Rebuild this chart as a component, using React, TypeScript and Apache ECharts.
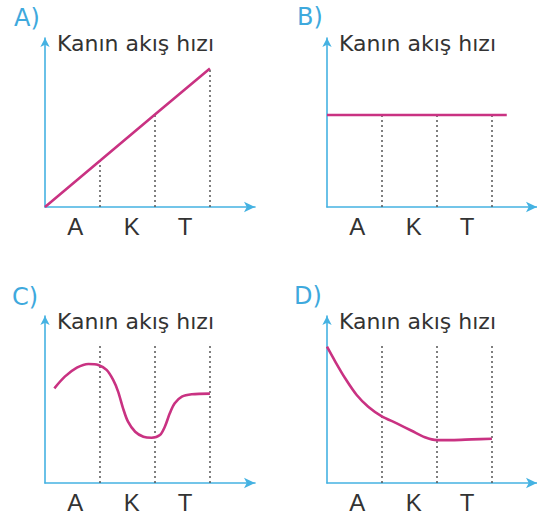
import React, { useEffect, useRef } from "react";
import * as echarts from "echarts";

const panelLetters = ["A)", "B)", "C)", "D)"];
const yAxisName = "Kanın akış hızı";
const categories = ["A", "K", "T"];
const labelPositions = [0.55, 1.58, 2.55];
const markerX = [1, 2, 3];

const seriesA: [number, number][] = [[0, 0], [1, 2.73], [2, 5.47], [3, 8.2]];
const seriesB: [number, number][] = [[0, 5.44], [1, 5.44], [2, 5.44], [3, 5.44], [3.27, 5.44]];
const seriesC: [number, number][] = [
  [0.17, 5.67], [0.36, 6.37], [0.58, 6.91], [0.79, 7.13], [0.97, 7.07],
  [1.12, 6.77], [1.24, 6.17], [1.33, 5.47], [1.42, 4.47], [1.51, 3.67],
  [1.64, 3.07], [1.79, 2.77], [1.94, 2.71], [2.09, 2.87], [2.18, 3.37],
  [2.27, 4.17], [2.36, 4.77], [2.49, 5.17], [2.67, 5.31], [3.0, 5.35],
];
const seriesD: [number, number][] = [
  [0, 8.16], [0.15, 7.27], [0.33, 6.27], [0.54, 5.27], [0.75, 4.57],
  [0.99, 4.01], [1.27, 3.57], [1.54, 3.13], [1.78, 2.74], [2.0, 2.57],
  [2.27, 2.57], [2.63, 2.61], [3.0, 2.65],
];
const dropTopsA = [2.73, 5.47, 8.2];
const dropTopsB = [5.44, 5.44, 5.44];
const dropTopsCD = [8.26, 8.26, 8.26];

const AXIS_BLUE = "#45b2e2";
const CURVE = "#c93282";
const FONT = "DejaVu Sans";
const LABEL_FONT = "Liberation Sans";

export default function App() {
  const ref = useRef<HTMLDivElement>(null);
  useEffect(() => {
    if (!ref.current) return;
    const chart = echarts.init(ref.current, null, { renderer: "svg" });
    const grids = [
      { left: 45, top: 38, width: 210, height: 169 },
      { left: 327, top: 38, width: 210, height: 169 },
      { left: 45, top: 316, width: 210, height: 167 },
      { left: 327, top: 316, width: 210, height: 167 },
    ];
    const letterPos = [
      [14, 18],
      [297, 17],
      [12, 297],
      [294, 296],
    ];
    const datas = [seriesA, seriesB, seriesC, seriesD];
    const drops = [dropTopsA, dropTopsB, dropTopsCD, dropTopsCD];
    const smooths = [false, false, 0.3, 0.3];

    const labelFor = (v: number) => {
      const k = labelPositions.findIndex((p) => Math.abs(p - v) < 1e-6);
      return k >= 0 ? categories[k] : "";
    };

    const option: any = {
      animation: false,
      backgroundColor: "#ffffff",
      textStyle: { fontFamily: FONT },
      grid: grids,
      xAxis: grids.map((_, i) => ({
        type: "value",
        gridIndex: i,
        min: 0,
        max: 3.82,
        splitLine: { show: false },
        axisTick: { show: false, customValues: labelPositions },
        axisLine: {
          show: true,
          onZero: false,
          symbol: ["none", "arrow"],
          symbolSize: [8, 11],
          lineStyle: { color: AXIS_BLUE, width: 1.6 },
        },
        axisLabel: {
          show: true,
          customValues: labelPositions,
          showMinLabel: true,
          showMaxLabel: true,
          formatter: (v: number) => labelFor(v),
          fontSize: 24,
          fontFamily: LABEL_FONT,
          color: "#333333",
          margin: 7,
        },
      })),
      yAxis: grids.map((_, i) => ({
        type: "value",
        gridIndex: i,
        min: 0,
        max: 10,
        splitLine: { show: false },
        axisTick: { show: false },
        axisLabel: { show: false },
        axisLine: {
          show: true,
          onZero: false,
          symbol: ["none", "arrow"],
          symbolSize: [7, 9],
          lineStyle: { color: AXIS_BLUE, width: 1.6 },
        },
        name: yAxisName,
        nameLocation: "end",
        nameGap: -5,
        nameTextStyle: {
          align: "left",
          verticalAlign: "middle",
          fontSize: 22,
          fontFamily: FONT,
          color: "#333333",
          padding: [0, 0, 0, 12],
        },
      })),
      series: datas.map((d, i) => ({
        type: "line",
        xAxisIndex: i,
        yAxisIndex: i,
        data: d,
        smooth: smooths[i],
        showSymbol: false,
        symbol: "none",
        lineStyle: { color: CURVE, width: 2.6 },
        z: 3,
        markLine: {
          silent: true,
          symbol: ["none", "none"],
          label: { show: false },
          lineStyle: { type: [2, 3], color: "#555555", width: 1.5 },
          z: 2,
          data: markerX.map((x, k) => [
            { coord: [x, 0] },
            { coord: [x, drops[i][k]] },
          ]),
        },
      })),
      graphic: panelLetters.map((t, i) => ({
        type: "text",
        x: letterPos[i][0],
        y: letterPos[i][1],
        style: {
          text: t,
          fontSize: 24,
          fontFamily: FONT,
          fill: "#3ea9dd",
          verticalAlign: "middle",
        },
      })),
    };
    chart.setOption(option);
    return () => chart.dispose();
  }, []);
  return (
    <div
      ref={ref}
      style={{ position: "absolute", left: 0, top: 0, width: 537, height: 522 }}
    />
  );
}
